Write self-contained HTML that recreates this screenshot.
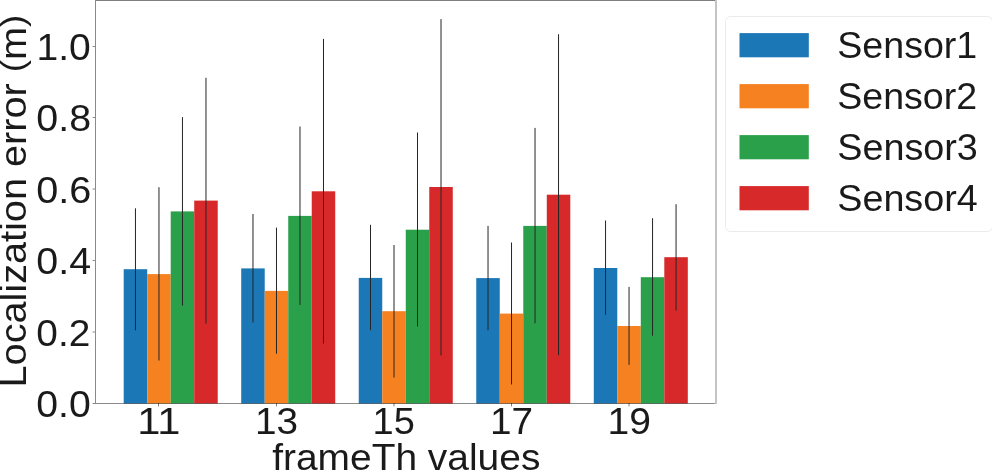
<!DOCTYPE html><html><head><meta charset="utf-8"><style>html,body{margin:0;padding:0;background:#fff;overflow:hidden}svg{display:block;will-change:transform}text{font-family:"Liberation Sans",sans-serif;fill:#1a1a1a}</style></head><body>
<svg width="992" height="471" viewBox="0 0 992 471">
<rect x="0" y="0" width="992" height="471" fill="#fff"/>
<rect x="123.70" y="269.20" width="23.50" height="134.30" fill="#1b77b6"/>
<rect x="147.21" y="274.10" width="23.50" height="129.40" fill="#f58120"/>
<rect x="170.71" y="211.40" width="23.50" height="192.10" fill="#2ba04a"/>
<rect x="194.22" y="200.60" width="23.50" height="202.90" fill="#d7282a"/>
<rect x="241.22" y="268.40" width="23.50" height="135.10" fill="#1b77b6"/>
<rect x="264.73" y="290.90" width="23.50" height="112.60" fill="#f58120"/>
<rect x="288.23" y="215.90" width="23.50" height="187.60" fill="#2ba04a"/>
<rect x="311.74" y="191.30" width="23.50" height="212.20" fill="#d7282a"/>
<rect x="358.74" y="277.90" width="23.50" height="125.60" fill="#1b77b6"/>
<rect x="382.25" y="311.20" width="23.50" height="92.30" fill="#f58120"/>
<rect x="405.75" y="229.70" width="23.50" height="173.80" fill="#2ba04a"/>
<rect x="429.26" y="187.00" width="23.50" height="216.50" fill="#d7282a"/>
<rect x="476.26" y="278.10" width="23.50" height="125.40" fill="#1b77b6"/>
<rect x="499.77" y="313.60" width="23.50" height="89.90" fill="#f58120"/>
<rect x="523.27" y="225.90" width="23.50" height="177.60" fill="#2ba04a"/>
<rect x="546.78" y="194.70" width="23.50" height="208.80" fill="#d7282a"/>
<rect x="593.78" y="268.00" width="23.50" height="135.50" fill="#1b77b6"/>
<rect x="617.29" y="326.00" width="23.50" height="77.50" fill="#f58120"/>
<rect x="640.79" y="277.20" width="23.50" height="126.30" fill="#2ba04a"/>
<rect x="664.30" y="257.20" width="23.50" height="146.30" fill="#d7282a"/>
<rect x="134.96" y="208.30" width="1.0" height="122.00" fill="#262626"/>
<rect x="158.46" y="187.20" width="1.0" height="173.30" fill="#262626"/>
<rect x="181.96" y="117.10" width="1.0" height="188.50" fill="#262626"/>
<rect x="205.47" y="77.80" width="1.0" height="245.80" fill="#262626"/>
<rect x="252.48" y="214.00" width="1.0" height="108.50" fill="#262626"/>
<rect x="275.98" y="227.60" width="1.0" height="126.10" fill="#262626"/>
<rect x="299.48" y="126.50" width="1.0" height="178.40" fill="#262626"/>
<rect x="322.99" y="38.90" width="1.0" height="304.60" fill="#262626"/>
<rect x="370.00" y="224.80" width="1.0" height="105.50" fill="#262626"/>
<rect x="393.50" y="245.00" width="1.0" height="132.50" fill="#262626"/>
<rect x="417.00" y="132.50" width="1.0" height="194.00" fill="#262626"/>
<rect x="440.51" y="19.10" width="1.0" height="336.30" fill="#262626"/>
<rect x="487.52" y="225.90" width="1.0" height="104.40" fill="#262626"/>
<rect x="511.02" y="242.50" width="1.0" height="142.00" fill="#262626"/>
<rect x="534.52" y="127.90" width="1.0" height="195.40" fill="#262626"/>
<rect x="558.03" y="34.20" width="1.0" height="321.00" fill="#262626"/>
<rect x="605.04" y="220.50" width="1.0" height="94.30" fill="#262626"/>
<rect x="628.54" y="286.90" width="1.0" height="78.00" fill="#262626"/>
<rect x="652.04" y="218.20" width="1.0" height="117.50" fill="#262626"/>
<rect x="675.55" y="204.20" width="1.0" height="106.30" fill="#262626"/>
<rect x="95" y="0" width="1" height="404" fill="rgba(0,0,0,0.46)"/>
<rect x="96" y="0" width="619" height="1" fill="rgba(0,0,0,0.5)"/>
<rect x="96" y="403" width="619" height="1" fill="rgba(0,0,0,0.46)"/>
<rect x="715" y="0" width="2" height="404" fill="rgba(0,0,0,0.23)"/>
<rect x="92.6" y="403.00" width="2.4" height="1" fill="rgba(0,0,0,0.46)"/>
<rect x="92.6" y="331.50" width="2.4" height="1" fill="rgba(0,0,0,0.46)"/>
<rect x="92.6" y="260.00" width="2.4" height="1" fill="rgba(0,0,0,0.46)"/>
<rect x="92.6" y="188.50" width="2.4" height="1" fill="rgba(0,0,0,0.46)"/>
<rect x="92.6" y="117.00" width="2.4" height="1" fill="rgba(0,0,0,0.46)"/>
<rect x="92.6" y="46.00" width="2.4" height="1" fill="rgba(0,0,0,0.46)"/>
<rect x="158.00" y="403" width="1" height="3.3" fill="rgba(0,0,0,0.5)"/>
<rect x="276.00" y="403" width="1" height="3.3" fill="rgba(0,0,0,0.5)"/>
<rect x="393.50" y="403" width="1" height="3.3" fill="rgba(0,0,0,0.5)"/>
<rect x="511.00" y="403" width="1" height="3.3" fill="rgba(0,0,0,0.5)"/>
<rect x="628.50" y="403" width="1" height="3.3" fill="rgba(0,0,0,0.5)"/>
<rect x="725.5" y="16.5" width="267" height="215" rx="5" ry="5" fill="#fff" stroke="#ebebeb" stroke-width="1"/>
<rect x="739.5" y="33.1" width="69.3" height="24.2" fill="#1b77b6"/>
<rect x="739.5" y="84.1" width="69.3" height="24.2" fill="#f58120"/>
<rect x="739.5" y="135.1" width="69.3" height="24.2" fill="#2ba04a"/>
<rect x="739.5" y="186.1" width="69.3" height="24.2" fill="#d7282a"/>
<text x="0" y="0" font-size="37.5" transform="translate(36.3,416.9) scale(1.0457,1)">0.0</text>
<text x="0" y="0" font-size="37.5" transform="translate(36.32,345.5) scale(1.0359,1)">0.2</text>
<text x="0" y="0" font-size="37.5" transform="translate(36.29,274.1) scale(1.0505,1)">0.4</text>
<text x="0" y="0" font-size="37.5" transform="translate(36.29,202.7) scale(1.0561,1)">0.6</text>
<text x="0" y="0" font-size="37.5" transform="translate(36.29,131.3) scale(1.051,1)">0.8</text>
<text x="0" y="0" font-size="37.5" transform="translate(36.51,59.9) scale(1.0417,1)">1.0</text>
<text x="0" y="0" font-size="37.5" transform="translate(137.26,434.2) scale(1.1095,1)">11</text>
<text x="0" y="0" font-size="37.5" transform="translate(254.99,434.2) scale(1.0336,1)">13</text>
<text x="0" y="0" font-size="37.5" transform="translate(372.57,434.2) scale(1.0133,1)">15</text>
<text x="0" y="0" font-size="37.5" transform="translate(490.03,434.2) scale(1.0338,1)">17</text>
<text x="0" y="0" font-size="37.5" transform="translate(607.53,434.2) scale(1.0403,1)">19</text>
<text x="0" y="0" font-size="37.2" transform="translate(837.23,57.5) scale(1.0112,1)">Sensor1</text>
<text x="0" y="0" font-size="37.2" transform="translate(837.23,108.5) scale(1.0094,1)">Sensor2</text>
<text x="0" y="0" font-size="37.2" transform="translate(837.22,159.5) scale(1.0149,1)">Sensor3</text>
<text x="0" y="0" font-size="37.2" transform="translate(837.22,210.5) scale(1.0147,1)">Sensor4</text>
<text x="0" y="0" font-size="37.0" transform="translate(272.17,470.2) scale(1.0519,1)">frameTh values</text>
<text x="0" y="0" font-size="36.2" transform="translate(25.9,387.49) rotate(-90) scale(1.0958,1)">Localization error <tspan font-size="33.5" dy="-2.3">(</tspan><tspan dy="2.3">m</tspan><tspan font-size="33.5" dy="-2.3">)</tspan></text>
</svg></body></html>
